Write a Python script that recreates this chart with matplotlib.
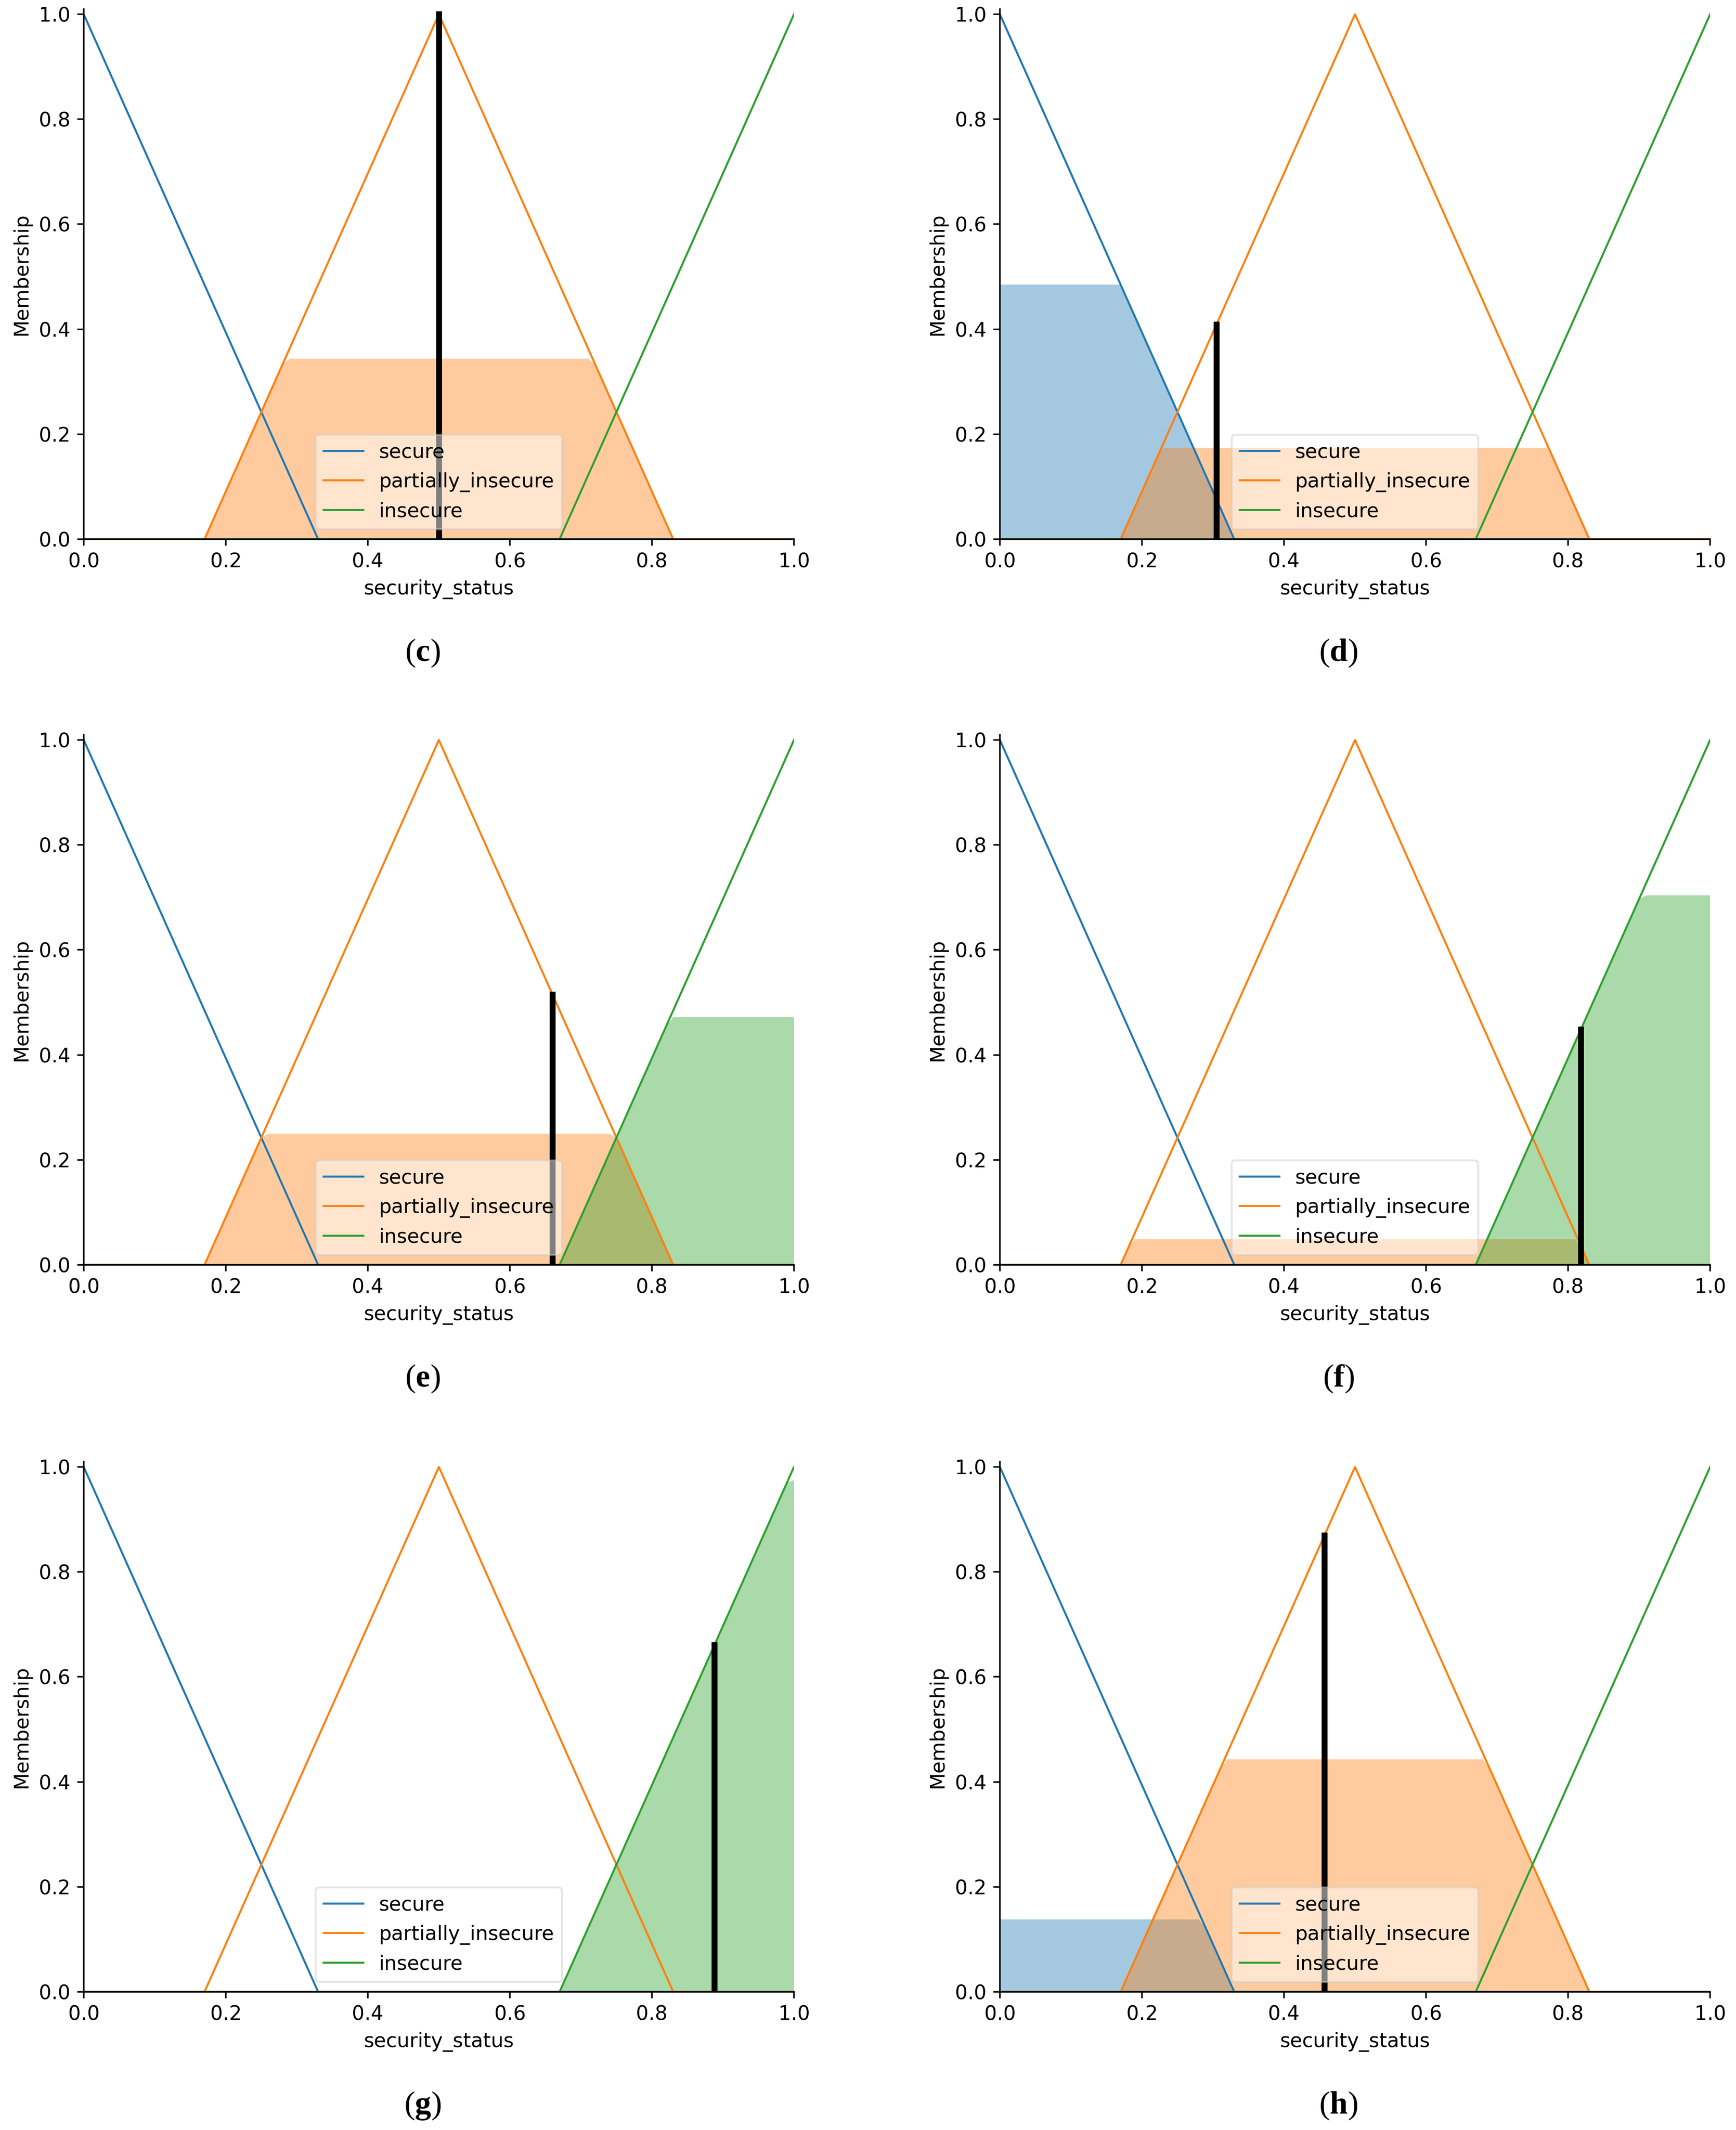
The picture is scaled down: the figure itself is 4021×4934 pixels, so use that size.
import numpy as np
import matplotlib
matplotlib.use('Agg')
import matplotlib.pyplot as plt

plt.rcParams['font.family'] = 'DejaVu Sans'
plt.rcParams['font.size'] = 10.45
plt.rcParams['mathtext.fontset'] = 'custom'
plt.rcParams['mathtext.rm'] = 'Liberation Serif'
plt.rcParams['mathtext.it'] = 'Liberation Serif'
plt.rcParams['mathtext.bf'] = 'Liberation Serif:bold'

# output universe and the three terms (triangular mfs)
universe = np.arange(0, 1.001, 0.01)
term_names = ['secure', 'partially_insecure', 'insecure']
term_abc = [[0.0, 0.0, 0.33], [0.17, 0.5, 0.83], [0.67, 1.0, 1.0]]
term_colors = ['tab:blue', 'tab:orange', 'tab:green']

# one entry per panel
panel_labels = ['c', 'd', 'e', 'f', 'g', 'h']
crisp_values = [0.500, 0.305, 0.660, 0.818, 0.888, 0.457]
secure_cut = [0.0, 0.485, 0.0, 0.0, 0.0, 0.138]
partial_cut = [0.344, 0.174, 0.250, 0.049, 0.0, 0.443]
insecure_cut = [0.0, 0.0, 0.472, 0.704, 0.975, 0.0]


def trimf(x, abc):
    a, b, c = abc
    y = np.zeros_like(x)
    if a != b:
        idx = (x > a) & (x < b)
        y[idx] = (x[idx] - a) / (b - a)
    if b != c:
        idx = (x > b) & (x < c)
        y[idx] = (c - x[idx]) / (c - b)
    y[x == b] = 1.0
    return y


mfs = [trimf(universe, abc) for abc in term_abc]

dpi = 317
W, H = 4021, 4934
fig = plt.figure(figsize=(W / dpi, H / dpi), dpi=dpi)

col_left = [194, 2316]  # px
ax_w = 1645
ax_h = 1228
row_bottom = [1249, 2930, 4614]  # px from top

for i, lab in enumerate(panel_labels):
    r, c = divmod(i, 2)
    left = col_left[c] / W
    bottom = (H - row_bottom[r]) / H
    ax = fig.add_axes([left, bottom, ax_w / W, ax_h / H])

    ax.set_ylim([0, 1.01])
    ax.set_xlim([universe.min(), universe.max()])

    handles = []
    for name, mf, col in zip(term_names, mfs, term_colors):
        h, = ax.plot(universe, mf, label=name, lw=1.05, color=col)
        handles.append(h)
    ax.legend(handles=handles, framealpha=0.5, loc='lower center')

    cuts = [secure_cut[i], partial_cut[i], insecure_cut[i]]
    zeros = np.zeros_like(universe)
    for mf, col, cut in zip(mfs, term_colors, cuts):
        ax.fill_between(universe, zeros, np.minimum(mf, cut), facecolor=col, alpha=0.4)

    crisp = crisp_values[i]
    y = max(np.interp(crisp, universe, mf) for mf in mfs)
    ax.plot([crisp] * 2, [0, y], color='k', lw=3.1)

    ax.spines['top'].set_visible(False)
    ax.spines['right'].set_visible(False)
    ax.tick_params(direction='out')
    ax.set_ylabel('Membership')
    ax.set_xlabel('security_status')

    cx = (col_left[c] + ax_w / 2 - 38) / W
    cy = (H - (row_bottom[r] + 264)) / H
    fig.text(cx, cy, r'$(\mathbf{%s})$' % lab, ha='center', va='center', fontsize=17)

fig.savefig('out.png', dpi=dpi, facecolor='white')
